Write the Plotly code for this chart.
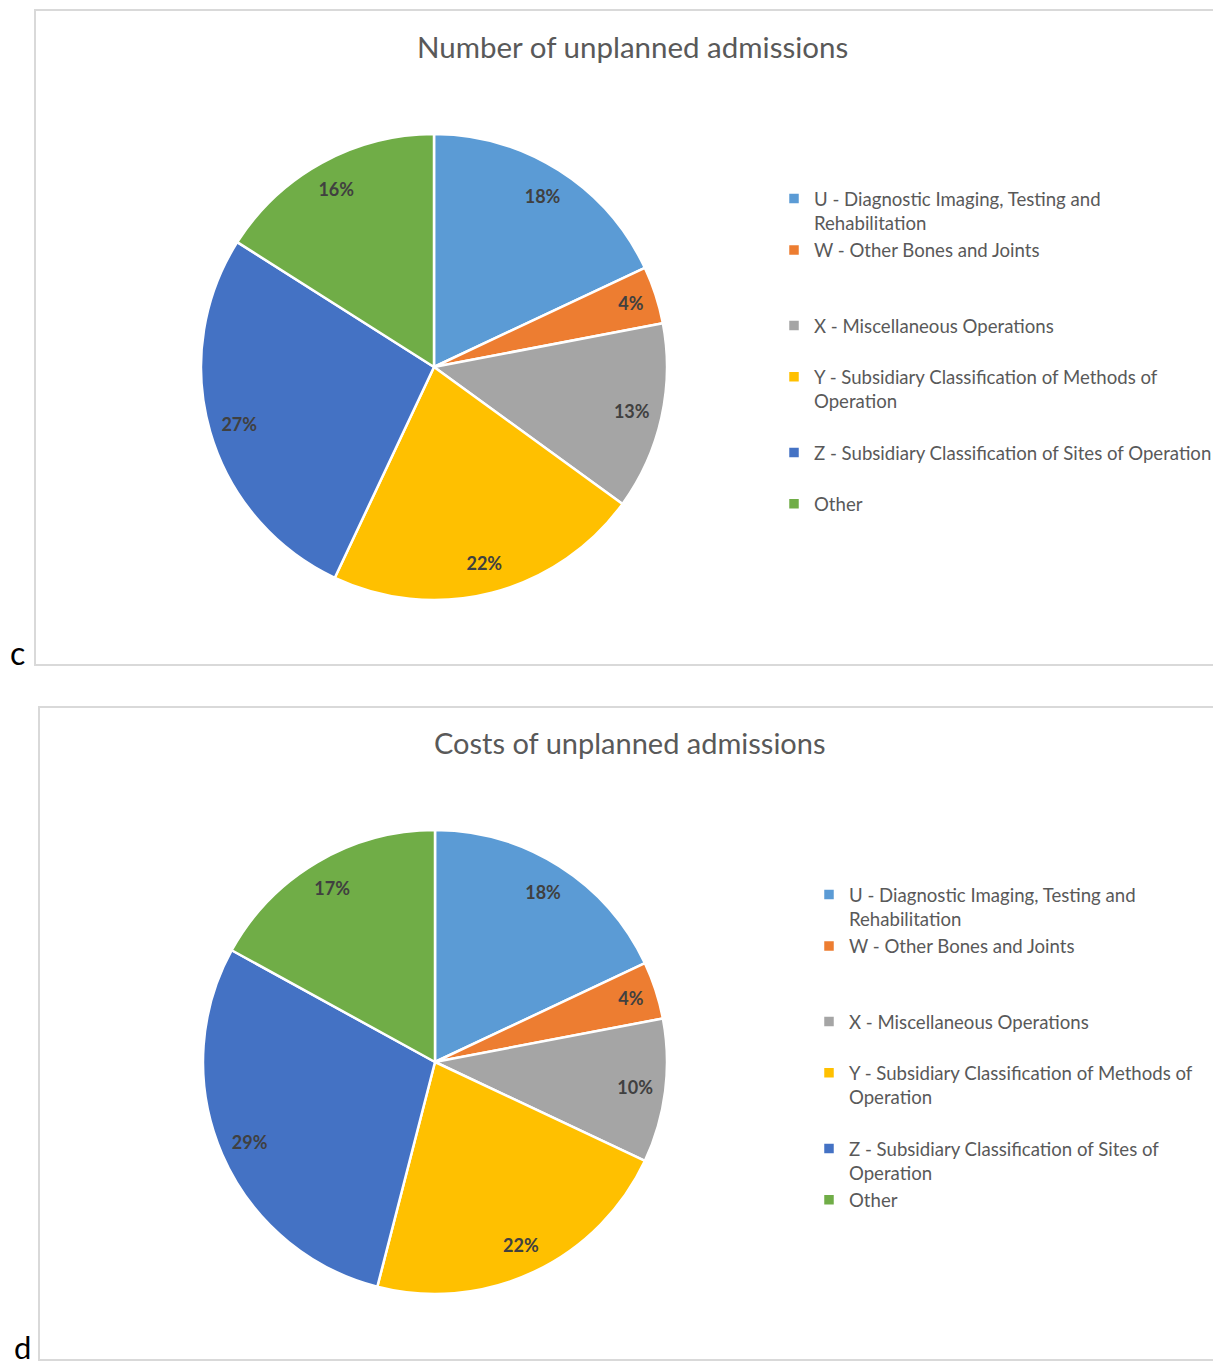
import plotly.graph_objects as go

W, H = 1213, 1369

# ---------------- data ----------------
categories_c = [
    "U - Diagnostic Imaging, Testing and<br>Rehabilitation",
    "W - Other Bones and Joints<br> <br> ",
    "X - Miscellaneous Operations<br> ",
    "Y - Subsidiary Classification of Methods of<br>Operation<br> ",
    "Z - Subsidiary Classification of Sites of Operation<br> ",
    "Other",
]
categories_d = [
    "U - Diagnostic Imaging, Testing and<br>Rehabilitation\u200b",
    "W - Other Bones and Joints<br> <br> \u200b",
    "X - Miscellaneous Operations<br> \u200b",
    "Y - Subsidiary Classification of Methods of<br>Operation<br> \u200b",
    "Z - Subsidiary Classification of Sites of<br>Operation\u200b",
    "Other\u200b",
]
number_pct = [18, 4, 13, 22, 27, 16]
costs_pct = [18, 4, 10, 22, 29, 17]
colors = ["#5B9BD5", "#ED7D31", "#A5A5A5", "#FFC000", "#4472C4", "#70AD47"]
title_c = "Number of unplanned admissions"
title_d = "Costs of unplanned admissions"

FONT = "Lato"
LABEL_FONT = dict(family=FONT, size=18, color="#404040", weight="bold")


def px_x(x):
    return x / W


def px_y(y):
    return 1 - y / H


def add_pie(labels, values, dom, legend):
    # full pie (slices + legend)
    fig.add_trace(go.Pie(
        labels=labels, values=values, sort=False, direction="clockwise",
        rotation=0, marker=dict(colors=colors, line=dict(color="white", width=2.5)),
        textinfo="none", domain=dom, legend=legend, hoverinfo="label+percent",
    ))
    # transparent ring on top, carrying the data labels near the rim
    fig.add_trace(go.Pie(
        labels=labels, values=values, sort=False, direction="clockwise",
        rotation=0, hole=0.74,
        marker=dict(colors=["rgba(0,0,0,0)"] * len(values), line=dict(width=0)),
        texttemplate="%{percent:.0%}", textposition="inside",
        insidetextorientation="horizontal", insidetextfont=LABEL_FONT,
        domain=dom, legend=legend, showlegend=False, hoverinfo="skip",
    ))


fig = go.Figure()
add_pie(categories_c, number_pct,
        dict(x=[px_x(201), px_x(667)], y=[px_y(600), px_y(134)]), "legend")
add_pie(categories_d, costs_pct,
        dict(x=[px_x(203), px_x(667)], y=[px_y(1294), px_y(830)]), "legend2")

legend_common = dict(
    font=dict(family=FONT, size=18.6, color="#595959"),
    bgcolor="rgba(0,0,0,0)", valign="top", xanchor="left", yanchor="top",
    traceorder="normal", borderwidth=0,
)

fig.update_layout(
    width=W, height=H, margin=dict(l=0, r=0, t=0, b=0, autoexpand=False),
    paper_bgcolor="white", plot_bgcolor="white",
    showlegend=True,
    legend=dict(x=px_x(774), y=px_y(180), **legend_common),
    legend2=dict(x=px_x(809), y=px_y(876), **legend_common),
    shapes=[
        dict(type="rect", xref="paper", yref="paper",
             x0=px_x(35), x1=px_x(1240), y0=px_y(665), y1=px_y(10),
             line=dict(color="#D9D9D9", width=2), layer="below"),
        dict(type="rect", xref="paper", yref="paper",
             x0=px_x(39), x1=px_x(1240), y0=px_y(1360), y1=px_y(707),
             line=dict(color="#D9D9D9", width=2), layer="below"),
    ],
    annotations=[
        dict(text=title_c, x=px_x(632), y=px_y(46), xref="paper", yref="paper",
             xanchor="center", yanchor="middle", showarrow=False,
             font=dict(family=FONT, size=29.5, color="#595959")),
        dict(text=title_d, x=px_x(630), y=px_y(743), xref="paper", yref="paper",
             xanchor="center", yanchor="middle", showarrow=False,
             font=dict(family=FONT, size=29, color="#595959")),
        dict(text="c", x=px_x(17.5), y=px_y(652), xref="paper", yref="paper",
             xanchor="center", yanchor="middle", showarrow=False,
             font=dict(family=FONT, size=32, color="black")),
        dict(text="d", x=px_x(22), y=px_y(1347), xref="paper", yref="paper",
             xanchor="center", yanchor="middle", showarrow=False,
             font=dict(family=FONT, size=31, color="black")),
    ],
)

fig.write_html("out.html", config={"displayModeBar": False},
               post_script="document.body.style.margin='0';")
